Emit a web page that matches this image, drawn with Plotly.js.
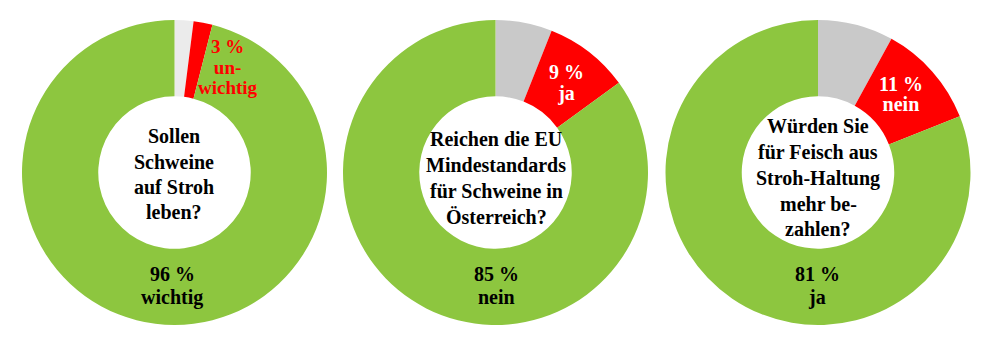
<!DOCTYPE html>
<html>
<head>
<meta charset="utf-8">
<script src="https://cdn.plot.ly/plotly-3.0.1.min.js"></script>
<style>html,body{margin:0;padding:0;background:#fff;}#chart{width:981px;height:339px;}</style>
</head>
<body>
<div id="chart"></div>
<script>
// ---- data ----
const categories1 = ['keine Angabe', 'unwichtig', 'wichtig'];
const values1 = [2, 2, 96];
const categories2 = ['keine Angabe', 'ja', 'nein'];
const values2 = [6, 9, 85];
const categories3 = ['keine Angabe', 'nein', 'ja'];
const values3 = [8, 11, 81];

const questions = [
  ['Sollen', 'Schweine', 'auf Stroh', 'leben?'],
  ['Reichen die EU', 'Mindestandards', 'für Schweine in', 'Österreich?'],
  ['Würden Sie', 'für Feisch aus', 'Stroh-Haltung', 'mehr be-', 'zahlen?']
];
const minorLabels = [
  ['3 %', 'un-', 'wichtig'],
  ['9 %', 'ja'],
  ['11 %', 'nein']
];
const majorLabels = [
  ['96 %', 'wichtig'],
  ['85 %', 'nein'],
  ['81 %', 'ja']
];

// ---- styling ----
const W = 981, H = 339;
const GREEN = '#8DC63F', RED = '#FF0000';
const greys = ['#EBEBEB', '#C9C9C9', '#C9C9C9'];
const domainsPx = [[21, 328], [342, 649], [665, 971]];
const yTop = 20, yBot = 325;
const FONT = 'Liberation Serif, Times New Roman, serif';

const allCats = [categories1, categories2, categories3];
const allVals = [values1, values2, values3];

const data = allVals.map((vals, i) => ({
  type: 'pie',
  values: vals,
  labels: allCats[i],
  sort: false,
  direction: 'clockwise',
  rotation: 0,
  hole: 0.5,
  textinfo: 'none',
  hoverinfo: 'none',
  showlegend: false,
  marker: { colors: [greys[i], RED, GREEN], line: { width: 0 } },
  domain: {
    x: [domainsPx[i][0] / W, domainsPx[i][1] / W],
    y: [1 - yBot / H, 1 - yTop / H]
  }
}));

const annotations = [];
function addLines(lines, cx, ys, color) {
  lines.forEach((t, k) => {
    annotations.push({
      text: t, xref: 'paper', yref: 'paper',
      x: cx / W, y: 1 - ys[k] / H,
      xanchor: 'center', yanchor: 'middle',
      showarrow: false,
      font: { family: FONT, size: 20, color: color, weight: 'bold' }
    });
  });
}
// tight multi-line block: line pitch = 1.3 * baseSize
function addBlock(lines, cx, cy, pitch, glyph, color) {
  const base = pitch / 1.3;
  annotations.push({
    text: lines.map(t => '<span style="font-size:' + glyph + 'px">' + t + '</span>').join('<br>'),
    xref: 'paper', yref: 'paper',
    x: cx / W, y: 1 - cy / H,
    xanchor: 'center', yanchor: 'middle', align: 'center',
    showarrow: false,
    font: { family: FONT, size: base, color: color, weight: 'bold' }
  });
}
// centre questions
addLines(questions[0], 174, [136, 162, 187, 212], '#000');
addLines(questions[1], 496, [139, 165, 191, 217], '#000');
addLines(questions[2], 818, [126, 152, 178, 204, 229], '#000');
// major labels
addLines(majorLabels[0], 172, [274, 297], '#000');
addLines(majorLabels[1], 496, [274, 297], '#000');
addLines(majorLabels[2], 817, [274, 297], '#000');
// minor labels
addBlock(minorLabels[0], 228, 67, 20.5, 19, RED);
addBlock(minorLabels[1], 566, 83, 21, 20, '#fff');
addBlock(minorLabels[2], 901, 94, 20, 20, '#fff');

const layout = {
  width: W, height: H,
  margin: { l: 0, r: 0, t: 0, b: 0 },
  paper_bgcolor: '#fff',
  plot_bgcolor: '#fff',
  annotations: annotations
};

Plotly.newPlot('chart', data, layout, { staticPlot: true, displayModeBar: false });
</script>
</body>
</html>
